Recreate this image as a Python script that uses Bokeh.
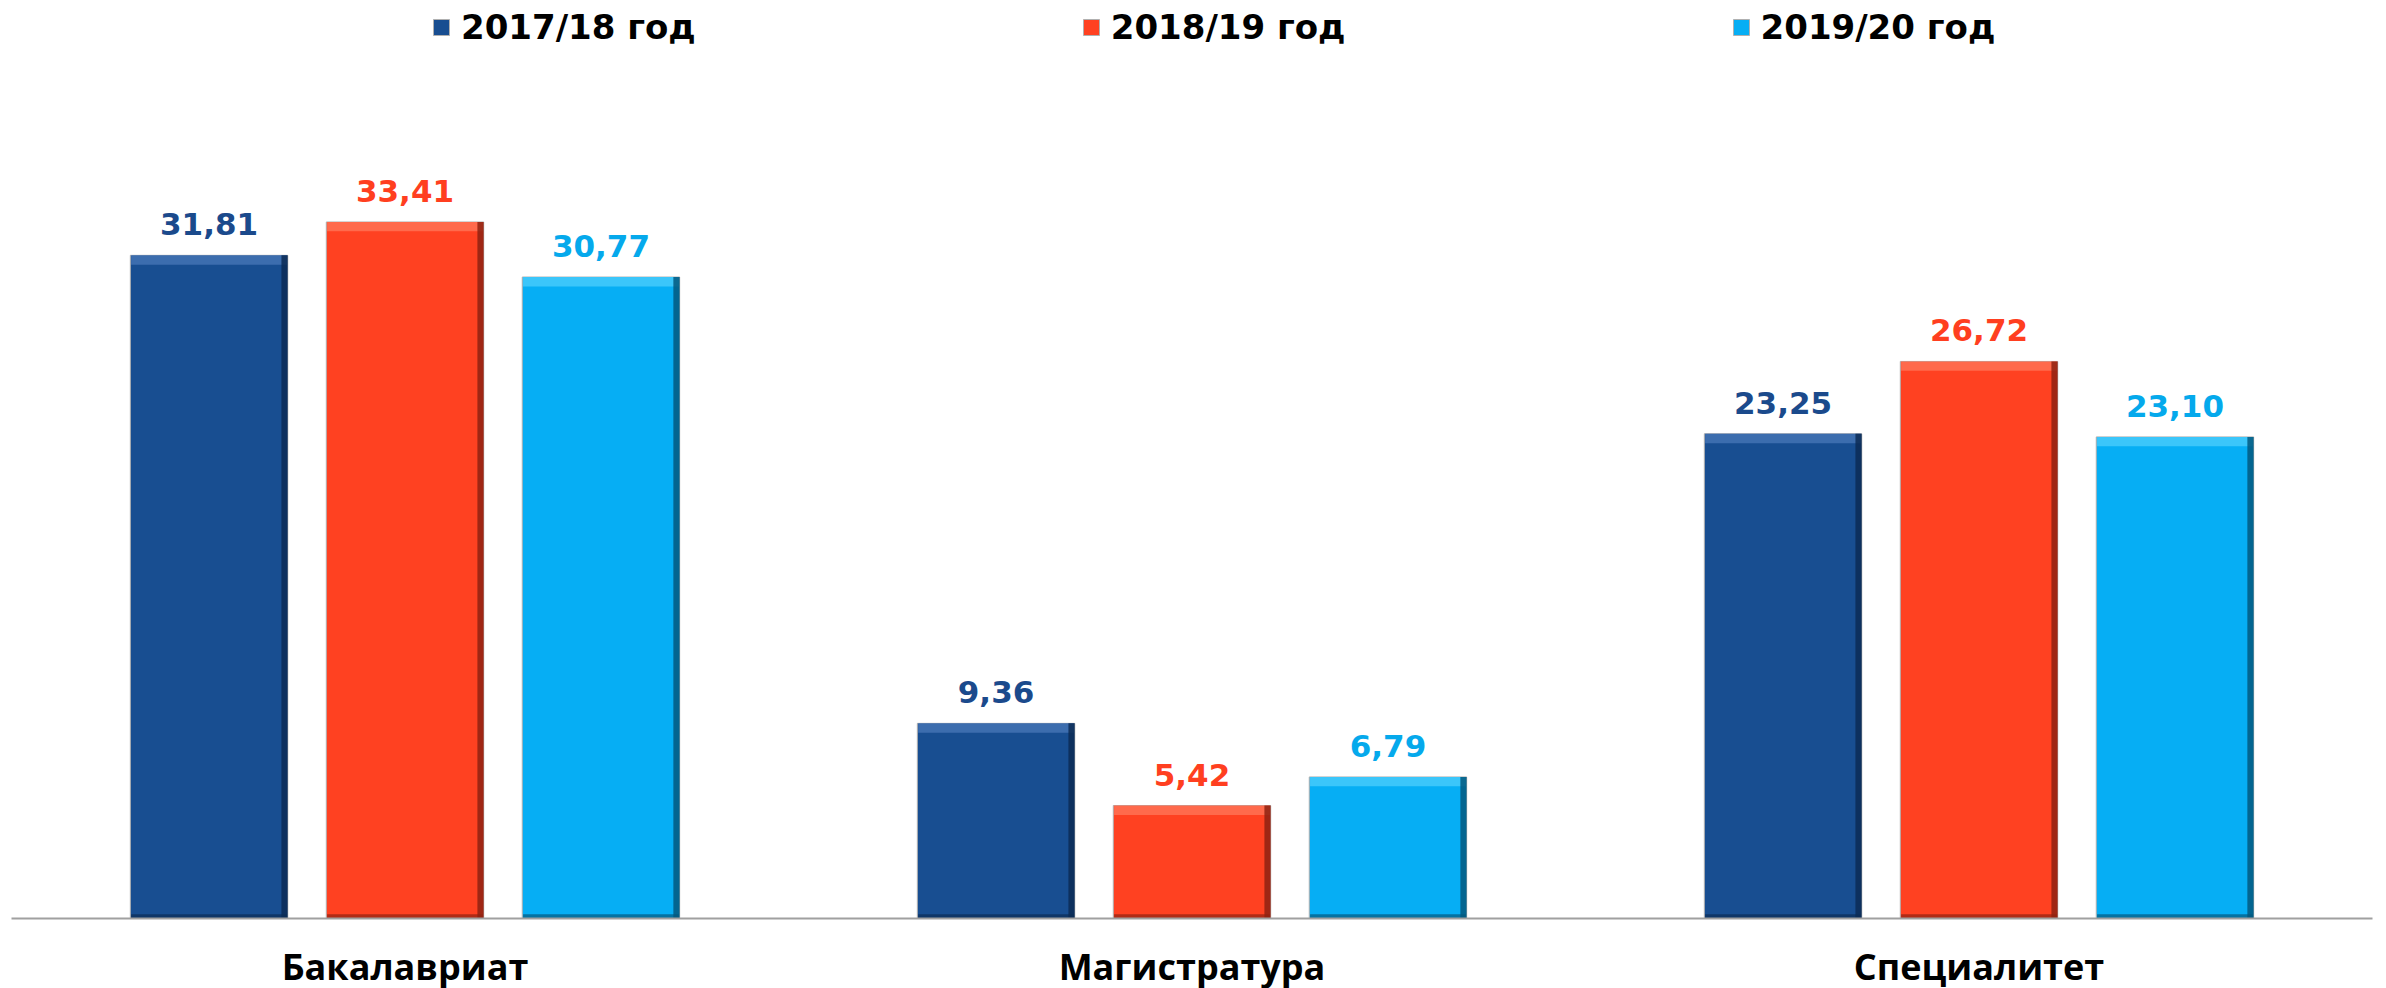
from bokeh.plotting import figure
from bokeh.models import ColumnDataSource, FactorRange, Range1d, Legend, LegendItem
from bokeh.transform import dodge
from bokeh.core.properties import value
from bokeh.embed import file_html
from bokeh.resources import INLINE

categories = ["Бакалавриат", "Магистратура", "Специалитет"]
series_names = ["2017/18 год", "2018/19 год", "2019/20 год"]
values_2017 = [31.81, 9.36, 23.25]
values_2018 = [33.41, 5.42, 26.72]
values_2019 = [30.77, 6.79, 23.10]

series_values = [values_2017, values_2018, values_2019]
body_colors = ["#184E91", "#FF4121", "#06AEF4"]
light_colors = ["#3C6DAE", "#FF6A4C", "#3BC6FA"]
dark_colors = ["#0C2C55", "#8E2212", "#04587E"]
label_colors = ["#1B4A8C", "#FF3F20", "#05A9EC"]

LABEL_FONT = "DejaVu Sans"

data = {"cat": categories}
for i, vals in enumerate(series_values):
    data[f"v{i}"] = vals
    data[f"t{i}"] = [f"{v:.2f}".replace(".", ",") for v in vals]
    data[f"top_band{i}"] = [max(v - 0.45, 0) for v in vals]
data["zero"] = [0 for _ in categories]
data["bot_band"] = [0.2 for _ in categories]
source = ColumnDataSource(data)

p = figure(
    x_range=FactorRange(*categories, range_padding=0),
    y_range=Range1d(0, 43.65),
    frame_width=2361,
    frame_height=910,
    min_border_left=11,
    min_border_right=12,
    min_border_top=8,
    min_border_bottom=0,
    y_axis_location=None,
    toolbar_location=None,
    output_backend="svg",
    outline_line_color=None,
    background_fill_color="white",
    border_fill_color="white",
)
p.xgrid.visible = False
p.ygrid.visible = False

offsets = [-0.249, 0.0, 0.249]
bar_w = 0.2
strip_w = 0.008
legend_items = []
for i in range(3):
    off = offsets[i]
    r = p.vbar(x=dodge("cat", off, range=p.x_range), top=f"v{i}", width=bar_w,
               source=source, fill_color=body_colors[i], line_color="#B0B0B0",
               line_width=1)
    legend_items.append(LegendItem(label=series_names[i], renderers=[r]))
    # top bevel
    p.vbar(x=dodge("cat", off, range=p.x_range), top=f"v{i}", bottom=f"top_band{i}",
           width=bar_w - 0.002, source=source, fill_color=light_colors[i], line_color=None)
    # bottom bevel
    p.vbar(x=dodge("cat", off, range=p.x_range), top="bot_band", bottom="zero",
           width=bar_w - 0.002, source=source, fill_color=dark_colors[i], line_color=None,
           fill_alpha=0.7)
    # right bevel
    p.vbar(x=dodge("cat", off + bar_w / 2 - strip_w / 2, range=p.x_range), top=f"v{i}",
           width=strip_w, source=source, fill_color=dark_colors[i], line_color=None,
           fill_alpha=0.85)
    p.text(x=dodge("cat", off, range=p.x_range), y=f"v{i}", text=f"t{i}", source=source,
           text_align="center", text_baseline="alphabetic", y_offset=-31,
           text_font=value(LABEL_FONT), text_font_style="bold", text_font_size="31px",
           text_color=label_colors[i])

legend = Legend(items=legend_items, orientation="horizontal", location=(420, 871),
                glyph_width=20, glyph_height=20, label_standoff=10, spacing=385,
                padding=0, margin=0, border_line_color=None, background_fill_alpha=0,
                label_text_font=LABEL_FONT, label_text_font_style="bold",
                label_text_font_size="34px", label_text_color="black")
p.add_layout(legend)

ax = p.xaxis[0]
ax.axis_line_color = "#A0A0A0"
ax.axis_line_width = 2
ax.major_tick_line_color = None
ax.minor_tick_line_color = None
ax.major_tick_out = 0
ax.major_tick_in = 0
ax.major_label_standoff = 23
ax.major_label_text_font = "Open Sans"
ax.major_label_text_font_style = "bold"
ax.major_label_text_font_size = "36px"
ax.major_label_text_color = "black"

open("out.html", "w").write(file_html(p, INLINE))
